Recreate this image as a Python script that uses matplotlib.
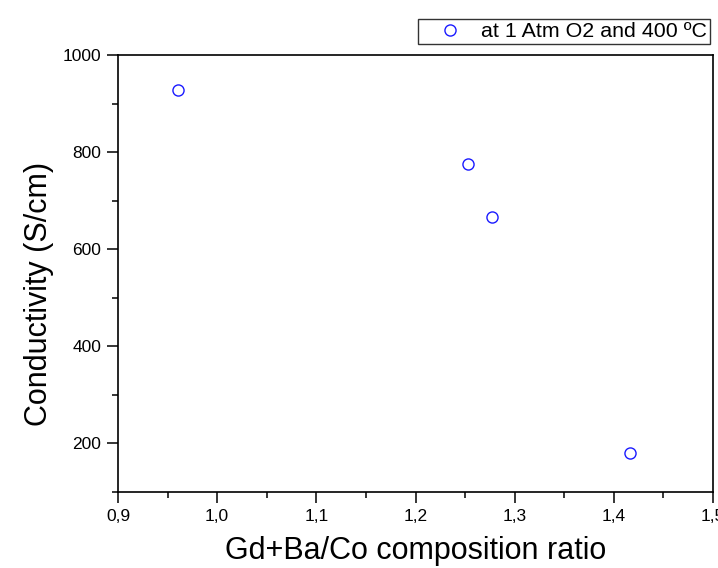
import matplotlib
matplotlib.use("Agg")
import matplotlib.pyplot as plt
from matplotlib.ticker import MultipleLocator, FuncFormatter

plt.rcParams['font.family'] = ['Liberation Sans', 'DejaVu Sans']

# data
ratio = [0.960, 1.253, 1.277, 1.416]
conductivity = [927, 776, 667, 180]
series_label = 'at 1 Atm O2 and 400 ºC'

fig = plt.figure(figsize=(7.18, 5.68), dpi=100)
ax = fig.add_axes([118 / 718, 1 - 492 / 568, (713 - 118) / 718, (492 - 55) / 568])

ax.plot(ratio, conductivity, linestyle='none', marker='o', markersize=8,
        markerfacecolor='none', markeredgecolor='#1a1aff', markeredgewidth=1.0,
        label=series_label)

ax.set_xlim(0.9, 1.5)
ax.set_ylim(100, 1000)
ax.xaxis.set_major_locator(MultipleLocator(0.1))
ax.xaxis.set_minor_locator(MultipleLocator(0.05))
ax.yaxis.set_major_locator(MultipleLocator(200))
ax.yaxis.set_minor_locator(MultipleLocator(100))
ax.xaxis.set_major_formatter(FuncFormatter(lambda v, p: f'{v:.1f}'.replace('.', ',')))
ax.yaxis.set_major_formatter(FuncFormatter(lambda v, p: f'{v:.0f}'))

ax.tick_params(which='major', direction='out', length=8, width=1.1, labelsize=12.5, pad=4)
ax.tick_params(which='minor', direction='out', length=4, width=1.1)
for s in ax.spines.values():
    s.set_linewidth(1.2)

ax.set_xlabel('Gd+Ba/Co composition ratio', fontsize=22, va='center')
ax.set_ylabel('Conductivity (S/cm)', fontsize=22, va='center')
ax.xaxis.set_label_coords(0.5, (492 - 551) / 437)
ax.yaxis.set_label_coords((39 - 118) / 595, (492 - 293.5) / 437)

leg = ax.legend(loc='upper right', bbox_to_anchor=(710 / 718, 1 - 19 / 568),
                bbox_transform=fig.transFigure, frameon=True, fancybox=False,
                fontsize=15.4, handletextpad=0.1, borderpad=0.15, borderaxespad=0,
                handlelength=2.7)
leg.get_frame().set_edgecolor('black')
leg.get_frame().set_linewidth(1.0)

fig.savefig('out.png', dpi=100)
